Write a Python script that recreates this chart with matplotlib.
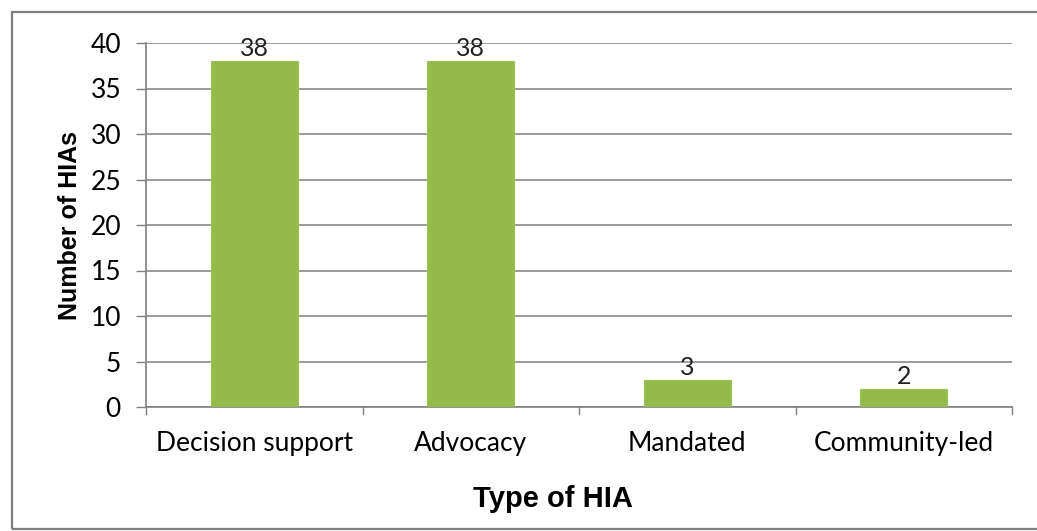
import matplotlib.pyplot as plt
from matplotlib.patches import Rectangle

categories = ['Decision support', 'Advocacy', 'Mandated', 'Community-led']
counts = [38, 38, 3, 2]
yticks = [0, 5, 10, 15, 20, 25, 30, 35, 40]

fig = plt.figure(figsize=(10.37, 5.31), dpi=100)
ax = fig.add_axes([146 / 1037, 1 - 407 / 531, (1012 - 146) / 1037, (407 - 43) / 531])

# outer chart border, as in the Excel export
fig.patches.append(Rectangle((12 / 1037, 2 / 531), 1.1, 517 / 531, transform=fig.transFigure,
                             fill=False, edgecolor='#7f7f7f', linewidth=1.6))

x = range(len(categories))
bars = ax.bar(x, counts, width=0.4, color='#94BA4C', edgecolor='#9BC153', linewidth=0.8, zorder=3)
for b, v in zip(bars, counts):
    ax.text(b.get_x() + b.get_width() / 2, v + 0.1, str(v), ha='center', va='bottom',
            fontsize=18, family='Lato', color='#222222', zorder=4)

ax.set_xlim(-0.5, len(categories) - 0.5)
ax.set_ylim(0, 40)
ax.set_yticks(yticks)
ax.set_yticklabels([str(t) for t in yticks], fontsize=19, family='Lato')
ax.set_xticks(list(x))
ax.set_xticklabels(categories, fontsize=19, family='Lato')
ax.tick_params(axis='x', length=0, pad=17)
ax.tick_params(axis='y', length=7, color='#808080', width=1, pad=11)

# category boundary ticks
for k in range(len(categories) + 1):
    ax.plot([k - 0.5, k - 0.5], [0, -0.8], color='#808080', linewidth=1, clip_on=False)

ax.grid(axis='y', color='#8a8a8a', linewidth=1.2, zorder=0)
for s in ['top', 'right']:
    ax.spines[s].set_visible(False)
ax.spines['left'].set_color('#808080')
ax.spines['bottom'].set_color('#808080')
ax.spines['left'].set_linewidth(1.2)
ax.spines['bottom'].set_linewidth(1.2)

ax.set_xlabel('Type of HIA', fontsize=21, fontweight='bold', family='Liberation Sans')
ax.xaxis.set_label_coords(0.47, -0.215)
ax.set_ylabel('Number of HIAs', fontsize=18, fontweight='bold', family='Liberation Sans')
ax.yaxis.set_label_coords(-0.074, 0.5)

fig.savefig('out.png', dpi=100)
